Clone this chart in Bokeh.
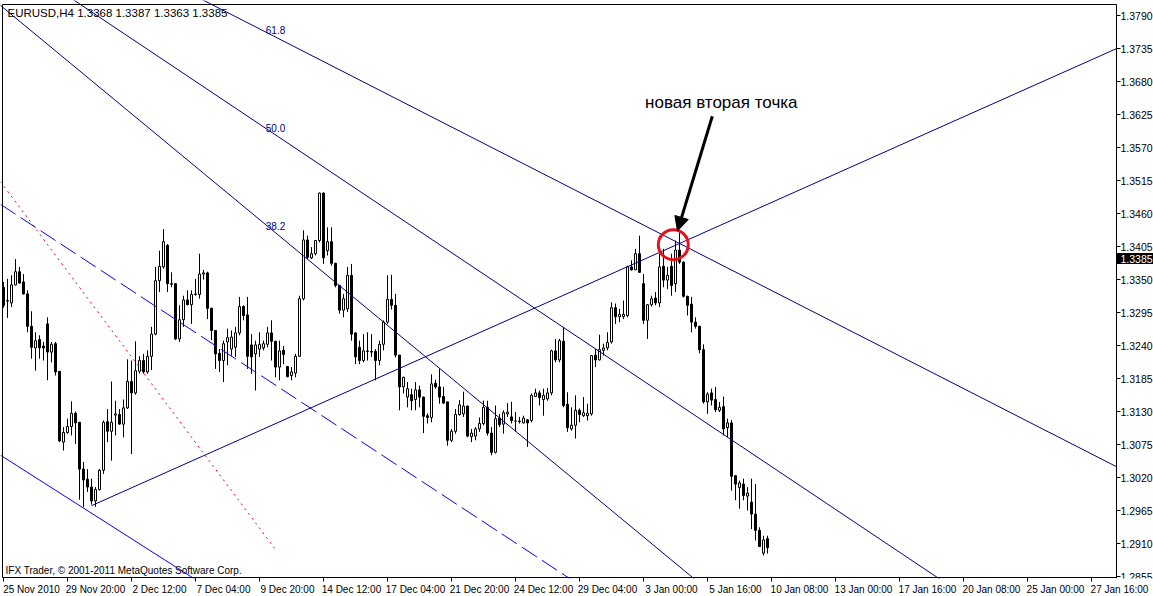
from bokeh.plotting import figure
from bokeh.models import Range1d, FixedTicker, CustomJSTickFormatter, Arrow, NormalHead, ColumnDataSource
from bokeh.core.properties import value
from bokeh.embed import file_html
from bokeh.resources import INLINE

# ---------------- data (EURUSD H4, one entry per bar) ----------------
opens = [1.3337, 1.3314, 1.3311, 1.3341, 1.3363, 1.3346, 1.3326, 1.3272, 1.3236, 1.3250,
         1.3239, 1.3276, 1.3229, 1.3243, 1.3197, 1.3079, 1.3095, 1.3105, 1.3127, 1.3112,
         1.3034, 1.3017, 1.3004, 1.2981, 1.3000, 1.3032, 1.3113, 1.3097, 1.3124, 1.3125,
         1.3109, 1.3136, 1.3180, 1.3161, 1.3197, 1.3215, 1.3196, 1.3222, 1.3259, 1.3348,
         1.3371, 1.3407, 1.3343, 1.3343, 1.3251, 1.3283, 1.3316, 1.3308, 1.3325, 1.3325,
         1.3359, 1.3361, 1.3302, 1.3265, 1.3227, 1.3215, 1.3246, 1.3234, 1.3237, 1.3261,
         1.3305, 1.3291, 1.3241, 1.3226, 1.3234, 1.3236, 1.3242, 1.3261, 1.3247, 1.3204,
         1.3232, 1.3205, 1.3190, 1.3194, 1.3222, 1.3318, 1.3416, 1.3386, 1.3393, 1.3415,
         1.3494, 1.3398, 1.3413, 1.3377, 1.3340, 1.3299, 1.3301, 1.3357, 1.3261, 1.3237,
         1.3215, 1.3230, 1.3230, 1.3230, 1.3215, 1.3242, 1.3279, 1.3317, 1.3307, 1.3224,
         1.3171, 1.3154, 1.3158, 1.3150, 1.3166, 1.3154, 1.3123, 1.3120, 1.3177, 1.3171,
         1.3155, 1.3146, 1.3082, 1.3097, 1.3125, 1.3126, 1.3139, 1.3088, 1.3089, 1.3101,
         1.3110, 1.3137, 1.3094, 1.3062, 1.3119, 1.3109, 1.3126, 1.3121, 1.3114, 1.3114,
         1.3111, 1.3116, 1.3115, 1.3155, 1.3161, 1.3150, 1.3151, 1.3161, 1.3231, 1.3216,
         1.3247, 1.3142, 1.3101, 1.3107, 1.3132, 1.3123, 1.3123, 1.3126, 1.3224, 1.3216,
         1.3232, 1.3236, 1.3246, 1.3303, 1.3288, 1.3288, 1.3290, 1.3371, 1.3366, 1.3393,
         1.3343, 1.3282, 1.3308, 1.3319, 1.3311, 1.3372, 1.3349, 1.3372, 1.3343, 1.3399,
         1.3379, 1.3322, 1.3309, 1.3279, 1.3272, 1.3233, 1.3146, 1.3161, 1.3150, 1.3132,
         1.3138, 1.3103, 1.3111, 1.3023, 1.3003, 1.3009, 1.2989, 1.2979, 1.2959, 1.2932,
         1.2894, 1.2918]
highs = [1.3346, 1.3351, 1.3357, 1.3384, 1.3371, 1.3359, 1.3332, 1.3297, 1.3262, 1.3257,
         1.3246, 1.3287, 1.3246, 1.3246, 1.3197, 1.3104, 1.3118, 1.3147, 1.3130, 1.3112,
         1.3046, 1.3034, 1.3018, 1.3004, 1.3034, 1.3115, 1.3134, 1.3180, 1.3148, 1.3134,
         1.3150, 1.3217, 1.3215, 1.3247, 1.3222, 1.3226, 1.3232, 1.3271, 1.3371, 1.3398,
         1.3434, 1.3409, 1.3362, 1.3343, 1.3307, 1.3323, 1.3332, 1.3332, 1.3351, 1.3393,
         1.3366, 1.3363, 1.3303, 1.3265, 1.3234, 1.3248, 1.3268, 1.3265, 1.3271, 1.3321,
         1.3307, 1.3321, 1.3259, 1.3248, 1.3262, 1.3248, 1.3271, 1.3282, 1.3248, 1.3248,
         1.3239, 1.3206, 1.3204, 1.3226, 1.3323, 1.3432, 1.3423, 1.3404, 1.3416, 1.3495,
         1.3495, 1.3437, 1.3437, 1.3378, 1.3341, 1.3326, 1.3371, 1.3376, 1.3262, 1.3248,
         1.3259, 1.3262, 1.3259, 1.3234, 1.3248, 1.3282, 1.3357, 1.3358, 1.3326, 1.3224,
         1.3188, 1.3179, 1.3168, 1.3179, 1.3173, 1.3155, 1.3127, 1.3192, 1.3183, 1.3201,
         1.3171, 1.3146, 1.3101, 1.3134, 1.3149, 1.3163, 1.3140, 1.3101, 1.3104, 1.3120,
         1.3148, 1.3148, 1.3104, 1.3140, 1.3126, 1.3132, 1.3144, 1.3146, 1.3129, 1.3121,
         1.3123, 1.3117, 1.3160, 1.3168, 1.3165, 1.3168, 1.3169, 1.3233, 1.3251, 1.3251,
         1.3271, 1.3162, 1.3137, 1.3157, 1.3135, 1.3154, 1.3143, 1.3224, 1.3234, 1.3258,
         1.3243, 1.3262, 1.3312, 1.3310, 1.3301, 1.3315, 1.3373, 1.3382, 1.3401, 1.3423,
         1.3359, 1.3309, 1.3323, 1.3329, 1.3393, 1.3401, 1.3371, 1.3393, 1.3415, 1.3429,
         1.3380, 1.3323, 1.3321, 1.3287, 1.3273, 1.3242, 1.3162, 1.3168, 1.3171, 1.3146,
         1.3155, 1.3118, 1.3116, 1.3024, 1.3015, 1.3018, 1.3004, 1.3018, 1.3009, 1.2937,
         1.2923, 1.2923]
lows = [1.3303, 1.3286, 1.3304, 1.3340, 1.3343, 1.3325, 1.3262, 1.3218, 1.3198, 1.3218,
        1.3215, 1.3182, 1.3212, 1.3190, 1.3079, 1.3065, 1.3093, 1.3090, 1.3076, 1.2983,
        1.2971, 1.2996, 1.2975, 1.2971, 1.2998, 1.3026, 1.3079, 1.3048, 1.3090, 1.3108,
        1.3087, 1.3134, 1.3059, 1.3158, 1.3193, 1.3193, 1.3193, 1.3199, 1.3257, 1.3329,
        1.3368, 1.3329, 1.3337, 1.3249, 1.3246, 1.3271, 1.3307, 1.3276, 1.3323, 1.3318,
        1.3350, 1.3284, 1.3249, 1.3201, 1.3196, 1.3179, 1.3207, 1.3223, 1.3221, 1.3257,
        1.3282, 1.3201, 1.3193, 1.3165, 1.3221, 1.3232, 1.3237, 1.3215, 1.3187, 1.3182,
        1.3209, 1.3187, 1.3182, 1.3187, 1.3221, 1.3315, 1.3384, 1.3384, 1.3390, 1.3412,
        1.3376, 1.3390, 1.3373, 1.3337, 1.3293, 1.3287, 1.3296, 1.3248, 1.3209, 1.3209,
        1.3212, 1.3215, 1.3221, 1.3182, 1.3207, 1.3232, 1.3276, 1.3300, 1.3220, 1.3132,
        1.3160, 1.3137, 1.3132, 1.3132, 1.3137, 1.3094, 1.3110, 1.3112, 1.3168, 1.3143,
        1.3143, 1.3073, 1.3079, 1.3093, 1.3123, 1.3121, 1.3087, 1.3079, 1.3082, 1.3096,
        1.3107, 1.3090, 1.3057, 1.3060, 1.3104, 1.3093, 1.3121, 1.3110, 1.3096, 1.3110,
        1.3110, 1.3071, 1.3112, 1.3154, 1.3140, 1.3123, 1.3148, 1.3157, 1.3212, 1.3212,
        1.3137, 1.3096, 1.3098, 1.3085, 1.3112, 1.3121, 1.3115, 1.3123, 1.3204, 1.3215,
        1.3223, 1.3232, 1.3243, 1.3276, 1.3279, 1.3284, 1.3287, 1.3365, 1.3366, 1.3361,
        1.3276, 1.3251, 1.3305, 1.3307, 1.3304, 1.3337, 1.3334, 1.3323, 1.3329, 1.3376,
        1.3320, 1.3290, 1.3262, 1.3268, 1.3227, 1.3143, 1.3126, 1.3140, 1.3129, 1.3129,
        1.3090, 1.3087, 1.2998, 1.2982, 1.2968, 1.2982, 1.2965, 1.2934, 1.2915, 1.2904,
        1.2890, 1.2893]
closes = [1.3307, 1.3315, 1.3341, 1.3363, 1.3344, 1.3326, 1.3272, 1.3237, 1.3248, 1.3236,
          1.3236, 1.3229, 1.3242, 1.3196, 1.3081, 1.3095, 1.3105, 1.3127, 1.3111, 1.3034,
          1.3016, 1.3004, 1.2981, 1.3000, 1.3032, 1.3112, 1.3097, 1.3112, 1.3126, 1.3109,
          1.3136, 1.3180, 1.3161, 1.3198, 1.3215, 1.3196, 1.3222, 1.3259, 1.3348, 1.3372,
          1.3413, 1.3343, 1.3342, 1.3251, 1.3283, 1.3316, 1.3308, 1.3325, 1.3326, 1.3359,
          1.3361, 1.3302, 1.3265, 1.3226, 1.3215, 1.3243, 1.3253, 1.3254, 1.3261, 1.3305,
          1.3290, 1.3222, 1.3221, 1.3241, 1.3242, 1.3243, 1.3261, 1.3247, 1.3204, 1.3231,
          1.3225, 1.3188, 1.3196, 1.3222, 1.3318, 1.3416, 1.3387, 1.3393, 1.3415, 1.3494,
          1.3386, 1.3413, 1.3377, 1.3340, 1.3299, 1.3318, 1.3357, 1.3259, 1.3221, 1.3215,
          1.3231, 1.3231, 1.3229, 1.3215, 1.3242, 1.3279, 1.3317, 1.3307, 1.3224, 1.3171,
          1.3187, 1.3168, 1.3148, 1.3166, 1.3154, 1.3122, 1.3120, 1.3176, 1.3171, 1.3154,
          1.3144, 1.3082, 1.3097, 1.3125, 1.3141, 1.3139, 1.3089, 1.3094, 1.3101, 1.3110,
          1.3137, 1.3094, 1.3062, 1.3118, 1.3108, 1.3128, 1.3129, 1.3115, 1.3114, 1.3113,
          1.3119, 1.3111, 1.3157, 1.3161, 1.3153, 1.3157, 1.3161, 1.3231, 1.3216, 1.3248,
          1.3140, 1.3103, 1.3107, 1.3132, 1.3125, 1.3128, 1.3127, 1.3223, 1.3216, 1.3233,
          1.3236, 1.3245, 1.3303, 1.3288, 1.3292, 1.3292, 1.3371, 1.3366, 1.3393, 1.3362,
          1.3282, 1.3308, 1.3318, 1.3311, 1.3371, 1.3349, 1.3357, 1.3340, 1.3399, 1.3379,
          1.3322, 1.3307, 1.3279, 1.3272, 1.3233, 1.3146, 1.3159, 1.3149, 1.3133, 1.3137,
          1.3101, 1.3111, 1.3022, 1.3009, 1.3011, 1.2990, 1.2994, 1.2959, 1.2932, 1.2905,
          1.2916, 1.2903]
bars = list(range(len(opens)))

# time-axis labels (one every 16 bars) and price-axis ticks
time_labels = ["25 Nov 2010", "29 Nov 20:00", "2 Dec 12:00", "7 Dec 04:00", "9 Dec 20:00",
               "14 Dec 12:00", "17 Dec 04:00", "21 Dec 20:00", "24 Dec 12:00", "29 Dec 04:00",
               "3 Jan 00:00", "5 Jan 16:00", "10 Jan 08:00", "13 Jan 00:00", "17 Jan 16:00",
               "20 Jan 08:00", "25 Jan 00:00", "27 Jan 16:00"]
bars_per_label = 16
price_ticks = [1.2855, 1.2910, 1.2965, 1.3020, 1.3075, 1.3130, 1.3185, 1.3240, 1.3295,
               1.3350, 1.3405, 1.3460, 1.3515, 1.3570, 1.3625, 1.3680, 1.3735, 1.3790]

header = "EURUSD,H4  1.3368 1.3387 1.3363 1.3385"
last_price = 1.3385
copyright_text = "IFX Trader, \u00a9 2001-2011 MetaQuotes Software Corp."

# drawn objects: anchor points as (bar, price)
fan_p1 = (-87, 1.4282)
fan_p2 = (68, 1.2900)
fan_levels = [38.2, 50.0, 61.8]
trend_p1 = (22, 1.2973)
trend_p2 = (169, 1.3410)
dash_p1 = (0, 1.3472)
dash_p2 = (141, 1.2854)
lower_p1 = (0, 1.3054)
lower_p2 = (48, 1.2850)
circle_center = (167.45, 1.3408)
arrow_from = (177.2, 1.3622)
arrow_to = (168.5, 1.3431)
note_text = "новая вторая точка"
note_anchor = (160.4, 1.3645)

# ---------------- geometry of the chart window ----------------
PY = 6000.0                        # pixels per price unit
X0, X1 = -0.75, 287.5              # whole canvas width is the data window (4 px per bar)
Y0, Y1 = 1.285167, 1.3815
LEFT_EDGE = -0.25                  # chart border (left)
TOP_EDGE = 1.380833                # chart border (top)
AXIS_X = 278.25                    # price scale line
BOTTOM_EDGE = 1.285333             # chart border (bottom)

p = figure(frame_width=1153, frame_height=578, x_range=Range1d(X0, X1), y_range=Range1d(Y0, Y1),
           output_backend="svg", toolbar_location=None,
           min_border_left=0, min_border_top=0, min_border_right=0, min_border_bottom=0,
           background_fill_color="white", border_fill_color="white")
p.grid.visible = False
p.outline_line_color = None
p.yaxis.visible = False

UI_FONT = "Liberation Sans"
# time axis (real axis): tick marks at bar of each label, label drawn just to its right
xa = p.xaxis[0]
label_pos = [k * bars_per_label + 7 for k in range(len(time_labels))]
mark_pos = [k * bars_per_label for k in range(len(time_labels))]
xa.ticker = FixedTicker(ticks=label_pos, minor_ticks=mark_pos)
xa.formatter = CustomJSTickFormatter(args=dict(labels=time_labels, step=bars_per_label),
                                     code="const k = Math.round((tick - 7) / step); return (k >= 0 && k < labels.length) ? labels[k] : '';")
xa.axis_line_color = None
xa.major_tick_in = 0
xa.major_tick_out = 0
xa.minor_tick_in = 1
xa.minor_tick_out = 3
xa.minor_tick_line_color = "black"
xa.major_label_standoff = 2
xa.major_label_text_font = UI_FONT
xa.major_label_text_font_size = "10px"
xa.major_label_text_color = "black"

# ---------------- candles ----------------
tops = [max(o, c) for o, c in zip(opens, closes)]
bots = [min(o, c) for o, c in zip(opens, closes)]
fills = ["white" if c >= o else "black" for o, c in zip(opens, closes)]
src = ColumnDataSource(dict(x=bars, o=opens, h=highs, l=lows, c=closes, top=tops, bot=bots, fill=fills))
p.segment(x0="x", y0="l", x1="x", y1="h", source=src, line_color="black", line_width=1)
p.vbar(x="x", width=0.5, top="top", bottom="bot", source=src, fill_color="fill",
       line_color="black", line_width=1)

# ---------------- drawn objects ----------------
def line_through(a, b, xs):
    (xa_, ya_), (xb_, yb_) = a, b
    k = (yb_ - ya_) / (xb_ - xa_)
    return [ya_ + k * (x - xa_) for x in xs]

NAVY = "#000080"
# Fibonacci fan rays (ending at the price scale) and their level labels
for lev in fan_levels:
    q = (fan_p2[0], fan_p2[1] + lev / 100.0 * (fan_p1[1] - fan_p2[1]))
    xs = [fan_p1[0], AXIS_X]
    p.line(xs, line_through(fan_p1, q, xs), line_color=NAVY, line_width=1)
    p.text(x=[q[0]], y=[q[1]], text=[f"{lev:.1f}"], text_align="center", text_baseline="bottom",
           y_offset=-3, text_font=value(UI_FONT), text_font_size="10px", text_color=NAVY)
# fan base line (red dotted)
p.line([fan_p1[0], fan_p2[0]], [fan_p1[1], fan_p2[1]], line_color="red", line_width=1, line_dash="2 4")
# rising trend line (ray to the price scale)
xs = [trend_p1[0], AXIS_X]
p.line(xs, line_through(trend_p1, trend_p2, xs), line_color=NAVY, line_width=1)
# blue dashed line
xs = [X0, dash_p2[0] + 10]
p.line(xs, line_through(dash_p1, dash_p2, xs), line_color="#0000ff", line_width=1, line_dash="18 6")
# lower blue line
xs = [X0, lower_p2[0] + 10]
p.line(xs, line_through(lower_p1, lower_p2, xs), line_color="#0000ff", line_width=1)

# white masks: below the bottom border and right of the price scale line
p.quad(left=[X0], right=[X1], bottom=[Y0], top=[BOTTOM_EDGE - 0.5 / PY], fill_color="white", line_color=None)
p.quad(left=[AXIS_X + 0.125], right=[X1], bottom=[Y0], top=[Y1], fill_color="white", line_color=None)

# chart borders and price scale line
p.line([LEFT_EDGE, AXIS_X], [TOP_EDGE, TOP_EDGE], line_color="black", line_width=1)
p.line([LEFT_EDGE, LEFT_EDGE], [BOTTOM_EDGE, TOP_EDGE], line_color="black", line_width=1)
p.line([LEFT_EDGE, AXIS_X], [BOTTOM_EDGE, BOTTOM_EDGE], line_color="black", line_width=1)
p.line([AXIS_X, AXIS_X], [Y0, TOP_EDGE], line_color="black", line_width=1)

# price scale: ticks and labels
p.segment(x0=[AXIS_X] * len(price_ticks), y0=price_ticks, x1=[AXIS_X + 1] * len(price_ticks),
          y1=price_ticks, line_color="black", line_width=1)
p.text(x=[AXIS_X] * len(price_ticks), y=price_ticks, text=[f"{t:.4f}" for t in price_ticks],
       x_offset=4, text_align="left", text_baseline="middle", text_font=value(UI_FONT),
       text_font_size="10.5px", text_color="black")

# annotation: circle, arrow, text
p.scatter(x=[circle_center[0]], y=[circle_center[1]], marker="circle", size=30,
          fill_alpha=0, line_color="#e3121b", line_width=3)
p.add_layout(Arrow(x_start=arrow_from[0], y_start=arrow_from[1], x_end=arrow_to[0], y_end=arrow_to[1],
                   line_color="black", line_width=3,
                   end=NormalHead(size=14, fill_color="black", line_color="black", line_width=1)))
p.text(x=[note_anchor[0]], y=[note_anchor[1]], text=[note_text], text_align="left",
       text_baseline="middle", text_font=value("Liberation Sans"), text_font_size="17px",
       text_color="black")

# header and copyright
p.text(x=[LEFT_EDGE], y=[TOP_EDGE], text=[header], text_align="left", text_baseline="top",
       x_offset=5, y_offset=2, text_font=value(UI_FONT), text_font_size="11.5px", text_color="black")
p.text(x=[LEFT_EDGE], y=[BOTTOM_EDGE], text=[copyright_text], text_align="left", text_baseline="bottom",
       x_offset=3, y_offset=-2, text_font=value(UI_FONT), text_font_size="10px", text_color="black")

# current price tag on the price scale
p.quad(left=[AXIS_X + 0.125], right=[X1], bottom=[last_price - 5.5 / PY], top=[last_price + 5.5 / PY],
       fill_color="black", line_color=None)
p.text(x=[AXIS_X], y=[last_price], text=[f"{last_price:.4f}"], x_offset=4, text_align="left",
       text_baseline="middle", text_font=value(UI_FONT), text_font_size="10.5px", text_color="white")

open("out.html", "w").write(file_html(p, INLINE))
